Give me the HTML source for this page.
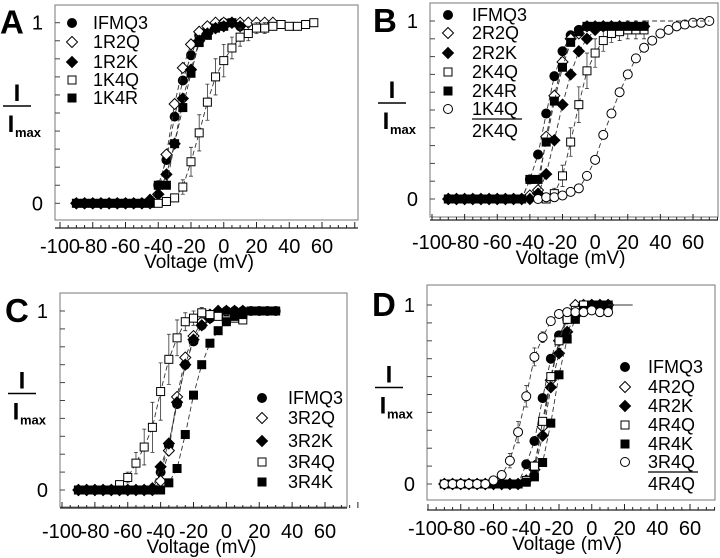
<!DOCTYPE html>
<html><head><meta charset="utf-8"><style>
html,body{margin:0;padding:0;background:#fff;}
svg{display:block;font-family:"Liberation Sans",Arial,sans-serif;}
</style></head><body>
<svg id="fig" width="720" height="558" viewBox="0 0 720 558"></svg>
<script>
// x tick labels shared
const xTicks = [-100,-80,-60,-40,-20,0,20,40,60];
// Panel A data (values start at startV, step 5 mV)
const A_IFMQ3 = [0,0,0,0,0,0,0,0,0,0,0.1,0.24,0.48,0.68,0.82,0.93,0.97,0.99,1,1,0.98];
const A_1R2Q = [0,0,0,0,0,0,0,0,0,0,0.05,0.27,0.55,0.75,0.88,0.95,0.98,1,1,1,1,1,1,1,1];
const A_1R2K = [0,0,0,0,0,0,0,0,0,0.02,0.05,0.16,0.33,0.58,0.74,0.9,0.94,0.97,0.98,1,0.98];
const A_1K4Q = [0,0.01,0.03,0.09,0.23,0.39,0.56,0.7,0.79,0.86,0.92,0.94,0.97,0.97,0.98,0.99,0.98,0.98,0.99,1];
const A_1K4Q_err = [0,0.01,0.02,0.04,0.08,0.1,0.1,0.1,0.09,0.06,0.05,0.04,0.03,0.03,0.02,0.02,0.02,0.02,0.01,0.01];
const A_1K4R = [0,0,0,0,0,0,0,0,0,0,0.1,0.1,0.33,0.53,0.72,0.89,0.93,0.97,0.98,1];
// Panel B data
const B_IFMQ3 = [0,0,0,0,0,0,0,0,0,0,0.11,0.25,0.48,0.69,0.83,0.92,0.95,0.97,0.97,0.97,0.97,0.97,0.97,0.97,0.97];
const B_2R2Q = [0,0,0,0,0,0,0,0,0,0,0.02,0.05,0.35,0.58,0.77,0.9,0.93,0.97,0.97,0.97,0.97,0.97,0.97,0.97,0.97];
const B_2R2K = [0,0,0,0,0,0,0,0,0,0,0,0.03,0.14,0.33,0.53,0.7,0.83,0.9,0.95,0.97,0.97,0.97,0.97,0.97,0.97];
const B_2K4Q = [0,0.03,0.13,0.32,0.53,0.72,0.82,0.89,0.93,0.94,0.95,0.95,0.95];
const B_2K4Q_err = [0.01,0.03,0.06,0.08,0.1,0.1,0.08,0.06,0.05,0.05,0.05,0.05,0.05];
const B_2K4R = [0,0,0,0,0,0,0,0,0,0,0.11,0.11,0.32,0.55,0.74,0.88,0.94,0.97,0.97,0.97,0.97,0.97,0.97,0.97,0.97];
const B_ratio = [0,0.01,0.01,0.02,0.04,0.06,0.13,0.22,0.36,0.48,0.6,0.7,0.79,0.85,0.89,0.93,0.95,0.97,0.98,0.99,0.99,1];
// Panel C data
const C_IFMQ3 = [0,0,0,0,0,0,0,0,0,0,0.1,0.25,0.48,0.7,0.83,0.92,0.96,0.98,1,1,1,1,1,1,1];
const C_3R2Q = [0,0,0,0,0,0,0,0,0,0,0.05,0.22,0.52,0.74,0.86,0.94,0.98,1,1,1,1];
const C_3R2K = [0,0,0,0,0,0,0,0,0,0.01,0.13,0.26,0.49,0.7,0.84,0.92,0.96,1,1,1,1];
const C_3R4Q = [0,0,0,0,0,0.03,0.07,0.15,0.24,0.35,0.55,0.73,0.85,0.94,0.96,0.99,0.98,0.97,0.95,0.96,0.95];
const C_3R4Q_err = [0,0,0,0,0,0.01,0.03,0.06,0.1,0.14,0.16,0.14,0.1,0.05,0.04,0.03,0.02,0.02,0.03,0.02,0.02];
const C_3R4K = [0,0,0,0,0,0,0,0,0,0,0,0.04,0.12,0.31,0.53,0.7,0.82,0.89,0.94,0.97,0.98,1,1,1,1];
// Panel D data
const D_IFMQ3 = [0,0,0,0,0,0,0,0,0,0,0.11,0.24,0.48,0.7,0.83,0.92,0.96,1,1,1,1];
const D_4R2Q = [0,0,0,0,0,0,0,0,0,0,0.02,0.1,0.32,0.58,0.8,0.95,1,1,1,1,1];
const D_4R2K = [0,0,0,0,0,0,0,0,0,0,0.02,0.08,0.27,0.54,0.73,0.85,0.94,0.98,1,1,1];
const D_4R4Q = [0,0,0,0,0,0,0,0,0,0,0.02,0.1,0.35,0.6,0.8,0.92,0.97,1,1,1,1];
const D_4R4K = [0,0,0,0,0,0,0,0,0,0,0.01,0.04,0.12,0.34,0.61,0.81,0.92,0.97,1,1,1];
const D_ratio = [0,0,0,0,0,0,0.02,0.05,0.13,0.29,0.49,0.71,0.82,0.91,0.95,0.96,0.96,0.96,0.97,0.96,0.96];
const D_ratio_err = [0,0,0,0,0,0,0.01,0.02,0.04,0.06,0.06,0.05,0.03,0.02,0.02,0.01,0.01,0.01,0.01,0.01,0.01];

const NS="http://www.w3.org/2000/svg";
const svg=document.getElementById('fig');
function mk(tag,attrs,parent){const e=document.createElementNS(NS,tag);for(const k in attrs)e.setAttribute(k,attrs[k]);(parent||svg).appendChild(e);return e;}

const panels=[
 {id:'a',label:'A',ax:55,top:5,right:358,bottom:220,xaxisY:228,x0:60,x60:322,y1:22.7,y0:203.3,lblY:253,volY:268,
  legMx:72,legTx:93,legY:[23,42,62,80,98],
  series:[{n:'IFMQ3',m:'fc',d:A_IFMQ3,s:-90},{n:'1R2Q',m:'od',d:A_1R2Q,s:-90},{n:'1R2K',m:'fd',d:A_1R2K,s:-90},{n:'1K4Q',m:'os',d:A_1K4Q,s:-40,e:A_1K4Q_err},{n:'1K4R',m:'fs',d:A_1K4R,s:-90}]},
 {id:'b',label:'B',ax:430,top:3,right:718,bottom:217,xaxisY:220,x0:432,x60:693,y1:21,y0:199,lblY:249,volY:264,
  legMx:448,legTx:472,legY:[15,33,53,72,91,109],frac:'2K4Q',
  series:[{n:'IFMQ3',m:'fc',d:B_IFMQ3,s:-90},{n:'2R2Q',m:'od',d:B_2R2Q,s:-90},{n:'2R2K',m:'fd',d:B_2R2K,s:-90},{n:'2K4Q',m:'os',d:B_2K4Q,s:-30,e:B_2K4Q_err},{n:'2K4R',m:'fs',d:B_2K4R,s:-90},{n:'1K4Q',m:'oc',d:B_ratio,s:-35}]},
 {id:'c',label:'C',ax:60,top:293,right:347,bottom:507,xaxisY:508,x0:62,x60:325,y1:311,y0:490,lblY:538,volY:553,
  legMx:262,legTx:288,legY:[398,418,441,462,482],
  series:[{n:'IFMQ3',m:'fc',d:C_IFMQ3,s:-90},{n:'3R2Q',m:'od',d:C_3R2Q,s:-90},{n:'3R2K',m:'fd',d:C_3R2K,s:-90},{n:'3R4Q',m:'os',d:C_3R4Q,s:-90,e:C_3R4Q_err},{n:'3R4K',m:'fs',d:C_3R4K,s:-90}]},
 {id:'d',label:'D',ax:427,top:285,right:715,bottom:500,xaxisY:510,x0:428,x60:690,y1:305,y0:484,lblY:535,volY:550,
  legMx:625,legTx:648,legY:[367,387,406,425,444,462],frac:'4R4Q',
  series:[{n:'IFMQ3',m:'fc',d:D_IFMQ3,s:-90},{n:'4R2Q',m:'od',d:D_4R2Q,s:-90},{n:'4R2K',m:'fd',d:D_4R2K,s:-90},{n:'4R4Q',m:'os',d:D_4R4Q,s:-90},{n:'4R4K',m:'fs',d:D_4R4K,s:-90},{n:'3R4Q',m:'oc',d:D_ratio,s:-90,e:D_ratio_err}]}
];

function marker(g,type,x,y,name){
  let e;const fill=type[0]==='f'?'#000':'#fff';const st={fill:fill,stroke:'#000','stroke-width':1};
  if(type[1]==='c'){e=mk('circle',Object.assign({cx:x,cy:y,r:4.5},st),g);}
  else if(type[1]==='s'){e=mk('rect',Object.assign({x:x-4,y:y-4,width:8,height:8},st),g);}
  else {e=mk('polygon',Object.assign({points:`${x},${y-5.5} ${x+5.5},${y} ${x},${y+5.5} ${x-5.5},${y}`},st),g);}
  
  
  return e;
}

panels.forEach(p=>{
  const g=mk('g',{});
  
  
  const sx=v=>p.x0+(v+100)*(p.x60-p.x0)/160;
  const sy=v=>p.y0+(p.y1-p.y0)*v;
  const fr=mk('path',{d:`M${p.ax},${p.bottom}V${p.top}H${p.right}V${p.bottom}Z`,fill:'none',stroke:'#777','stroke-width':1},g);
  
  
  for(let i=0;i<=10;i++){mk('line',{x1:p.ax,x2:p.ax+5,y1:sy(i/10),y2:sy(i/10),stroke:'#444'},g);}
  const xa=mk('line',{x1:p.ax,x2:p.right,y1:p.xaxisY,y2:p.xaxisY,stroke:'#222','stroke-width':1.2},g);
  
  
  for(let v=-100;v<=80;v+=5){const big=v%20===0;mk('line',{x1:sx(v),x2:sx(v),y1:p.xaxisY,y2:p.xaxisY-(big?6:3),stroke:'#222'},g);}
  xTicks.forEach(v=>{const t=mk('text',{x:sx(v),y:p.lblY,'font-size':20,'text-anchor':'middle'},g);t.textContent=v;
    
    });
  const vt=mk('text',{x:(sx(-100)+sx(60))/2+8,y:p.volY,'font-size':19,'text-anchor':'middle'},g);vt.textContent='Voltage (mV)';
  
  
  [[1,'1'],[0,'0']].forEach(([v,s])=>{const t=mk('text',{x:p.ax-12,y:sy(v)+7,'font-size':20,'text-anchor':'end'},g);t.textContent=s;
    
    });
  const pl=mk('text',{x:p.ax-55+(p.id==='b'?-2:0),y:sy(1)+11,'font-size':33,'font-weight':'bold'},g);pl.textContent=p.label;
  
  
  const yc=(sy(1)+sy(0))/2-7;const yx=p.ax-38;
  const yt=mk('g',{},g);
  
  
  mk('text',{x:yx,y:yc-5,'font-size':24,'font-weight':'bold','text-anchor':'middle'},yt).textContent='I';
  mk('line',{x1:yx-14,x2:yx+14,y1:yc,y2:yc,stroke:'#000','stroke-width':1.5},yt);
  const it=mk('text',{x:yx-6,y:yc+26,'font-size':24,'font-weight':'bold','text-anchor':'middle'},yt);it.textContent='I';
  mk('text',{x:yx+11,y:yc+31,'font-size':13,'font-weight':'bold','text-anchor':'middle'},yt).textContent='max';
  p.series.forEach((s,si)=>{
    const sg=mk('g',{},g);
    
    
    const pts=s.d.map((v,i)=>[sx(s.s+5*i),sy(v)]);
    const ln=mk('polyline',{points:pts.map(q=>q.join(',')).join(' '),fill:'none',stroke:'#333','stroke-width':0.9,'stroke-dasharray':'5,3'},sg);
    
    
    if(s.e){s.e.forEach((e,i)=>{if(e>0){const x=sx(s.s+5*i);mk('path',{d:`M${x},${sy(s.d[i]-e)}V${sy(s.d[i]+e)}M${x-2},${sy(s.d[i]+e)}H${x+2}M${x-2},${sy(s.d[i]-e)}H${x+2}`,stroke:'#333','stroke-width':0.8,fill:'none'},sg);}});}
    s.d.forEach((v,i)=>marker(sg,s.m,sx(s.s+5*i),sy(v),'point'));
    const ly=p.legY[si];
    const lg=mk('g',{},g);
    
    
    marker(lg,s.m,p.legMx,ly,'legend-marker');
    const lt=mk('text',{x:p.legTx,y:ly+6,'font-size':18},lg);lt.textContent=s.n;
    if(p.frac&&si===p.series.length-1){
      mk('line',{x1:p.legTx,x2:p.legTx+50,y1:ly+10,y2:ly+10,stroke:'#000','stroke-width':1.2},lg);
      mk('text',{x:p.legTx,y:ly+28,'font-size':18},lg).textContent=p.frac;
    }
  });
  if(p.id==='b'){mk('line',{x1:sx(30),x2:sx(70),y1:sy(1),y2:sy(1),stroke:'#333','stroke-dasharray':'5,3'},g);}
  if(p.id==='d'){mk('line',{x1:sx(10),x2:sx(25),y1:sy(1),y2:sy(1),stroke:'#333'},g);}
});
</script>
</body></html>
